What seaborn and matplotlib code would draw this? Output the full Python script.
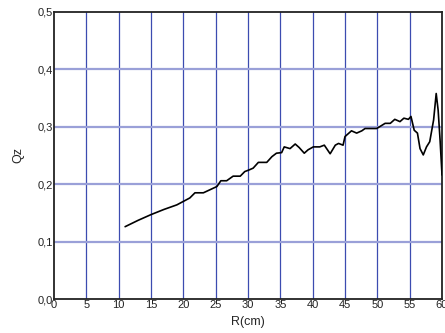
import numpy as np
import pandas as pd
import matplotlib
matplotlib.use("Agg")
import matplotlib.pyplot as plt
import seaborn as sns

# values
r_cm = [11.0, 13.0, 15.0, 17.0, 19.0, 20.0, 21.0, 21.8, 23.1, 25.2, 25.8, 26.7,
        27.7, 28.8, 29.5, 30.2, 30.8, 31.6, 32.9, 33.7, 34.4, 35.2, 35.6, 36.5,
        37.3, 37.9, 38.7, 39.3, 40.1, 41.1, 41.8, 42.7, 43.5, 44.0, 44.7, 45.0,
        46.0, 46.8, 47.6, 48.1, 49.9, 51.2, 52.0, 52.7, 53.5, 54.1, 54.8, 55.2,
        55.7, 56.2, 56.6, 57.1, 57.6, 58.1, 58.7, 59.1, 59.4, 59.7, 60.0]
qz = [0.126, 0.137, 0.147, 0.156, 0.164, 0.170, 0.176, 0.185, 0.185, 0.196,
      0.206, 0.206, 0.214, 0.214, 0.222, 0.225, 0.228, 0.238, 0.238, 0.248,
      0.254, 0.255, 0.265, 0.262, 0.270, 0.264, 0.254, 0.260, 0.265, 0.265,
      0.268, 0.253, 0.268, 0.271, 0.268, 0.283, 0.293, 0.289, 0.293, 0.297,
      0.297, 0.306, 0.306, 0.313, 0.309, 0.315, 0.313, 0.318, 0.294, 0.289,
      0.262, 0.251, 0.265, 0.274, 0.312, 0.358, 0.329, 0.277, 0.216]

x_ticks = [0, 5, 10, 15, 20, 25, 30, 35, 40, 45, 50, 55, 60]
y_ticks = [0.0, 0.1, 0.2, 0.3, 0.4, 0.5]
y_tick_labels = ["0,0", "0,1", "0,2", "0,3", "0,4", "0,5"]

df = pd.DataFrame({"R": r_cm, "Qz": qz})

sns.set_style("white")
plt.rcParams["font.family"] = ["Liberation Sans", "DejaVu Sans"]

fig = plt.figure(figsize=(4.45, 3.33), dpi=100)
ax = fig.add_axes([0.1213, 0.1021, 0.8720, 0.8619])

# grid: vertical darker, horizontal lighter and thicker
for xv in x_ticks[1:-1]:
    ax.axvline(xv, color="#3c4cb0", lw=0.9, zorder=1)
for yv in y_ticks[1:-1]:
    ax.axhline(yv, color="#9aa0d8", lw=1.6, zorder=1)

sns.lineplot(data=df, x="R", y="Qz", color="black", lw=1.2, ax=ax, zorder=3)

ax.set_xlim(0, 60)
ax.set_ylim(0, 0.5)
ax.set_xticks(x_ticks)
ax.set_xticklabels([str(v) for v in x_ticks])
ax.set_yticks(y_ticks)
ax.set_yticklabels(y_tick_labels)
ax.tick_params(axis="both", length=0, labelsize=8, colors="#222222", pad=1)
ax.set_xlabel("R(cm)", fontsize=9, labelpad=4)
ax.set_ylabel("Qz", fontsize=9, labelpad=9)

for s in ax.spines.values():
    s.set_color("#222222")
    s.set_linewidth(1.3)

fig.savefig("out.png", dpi=100)
